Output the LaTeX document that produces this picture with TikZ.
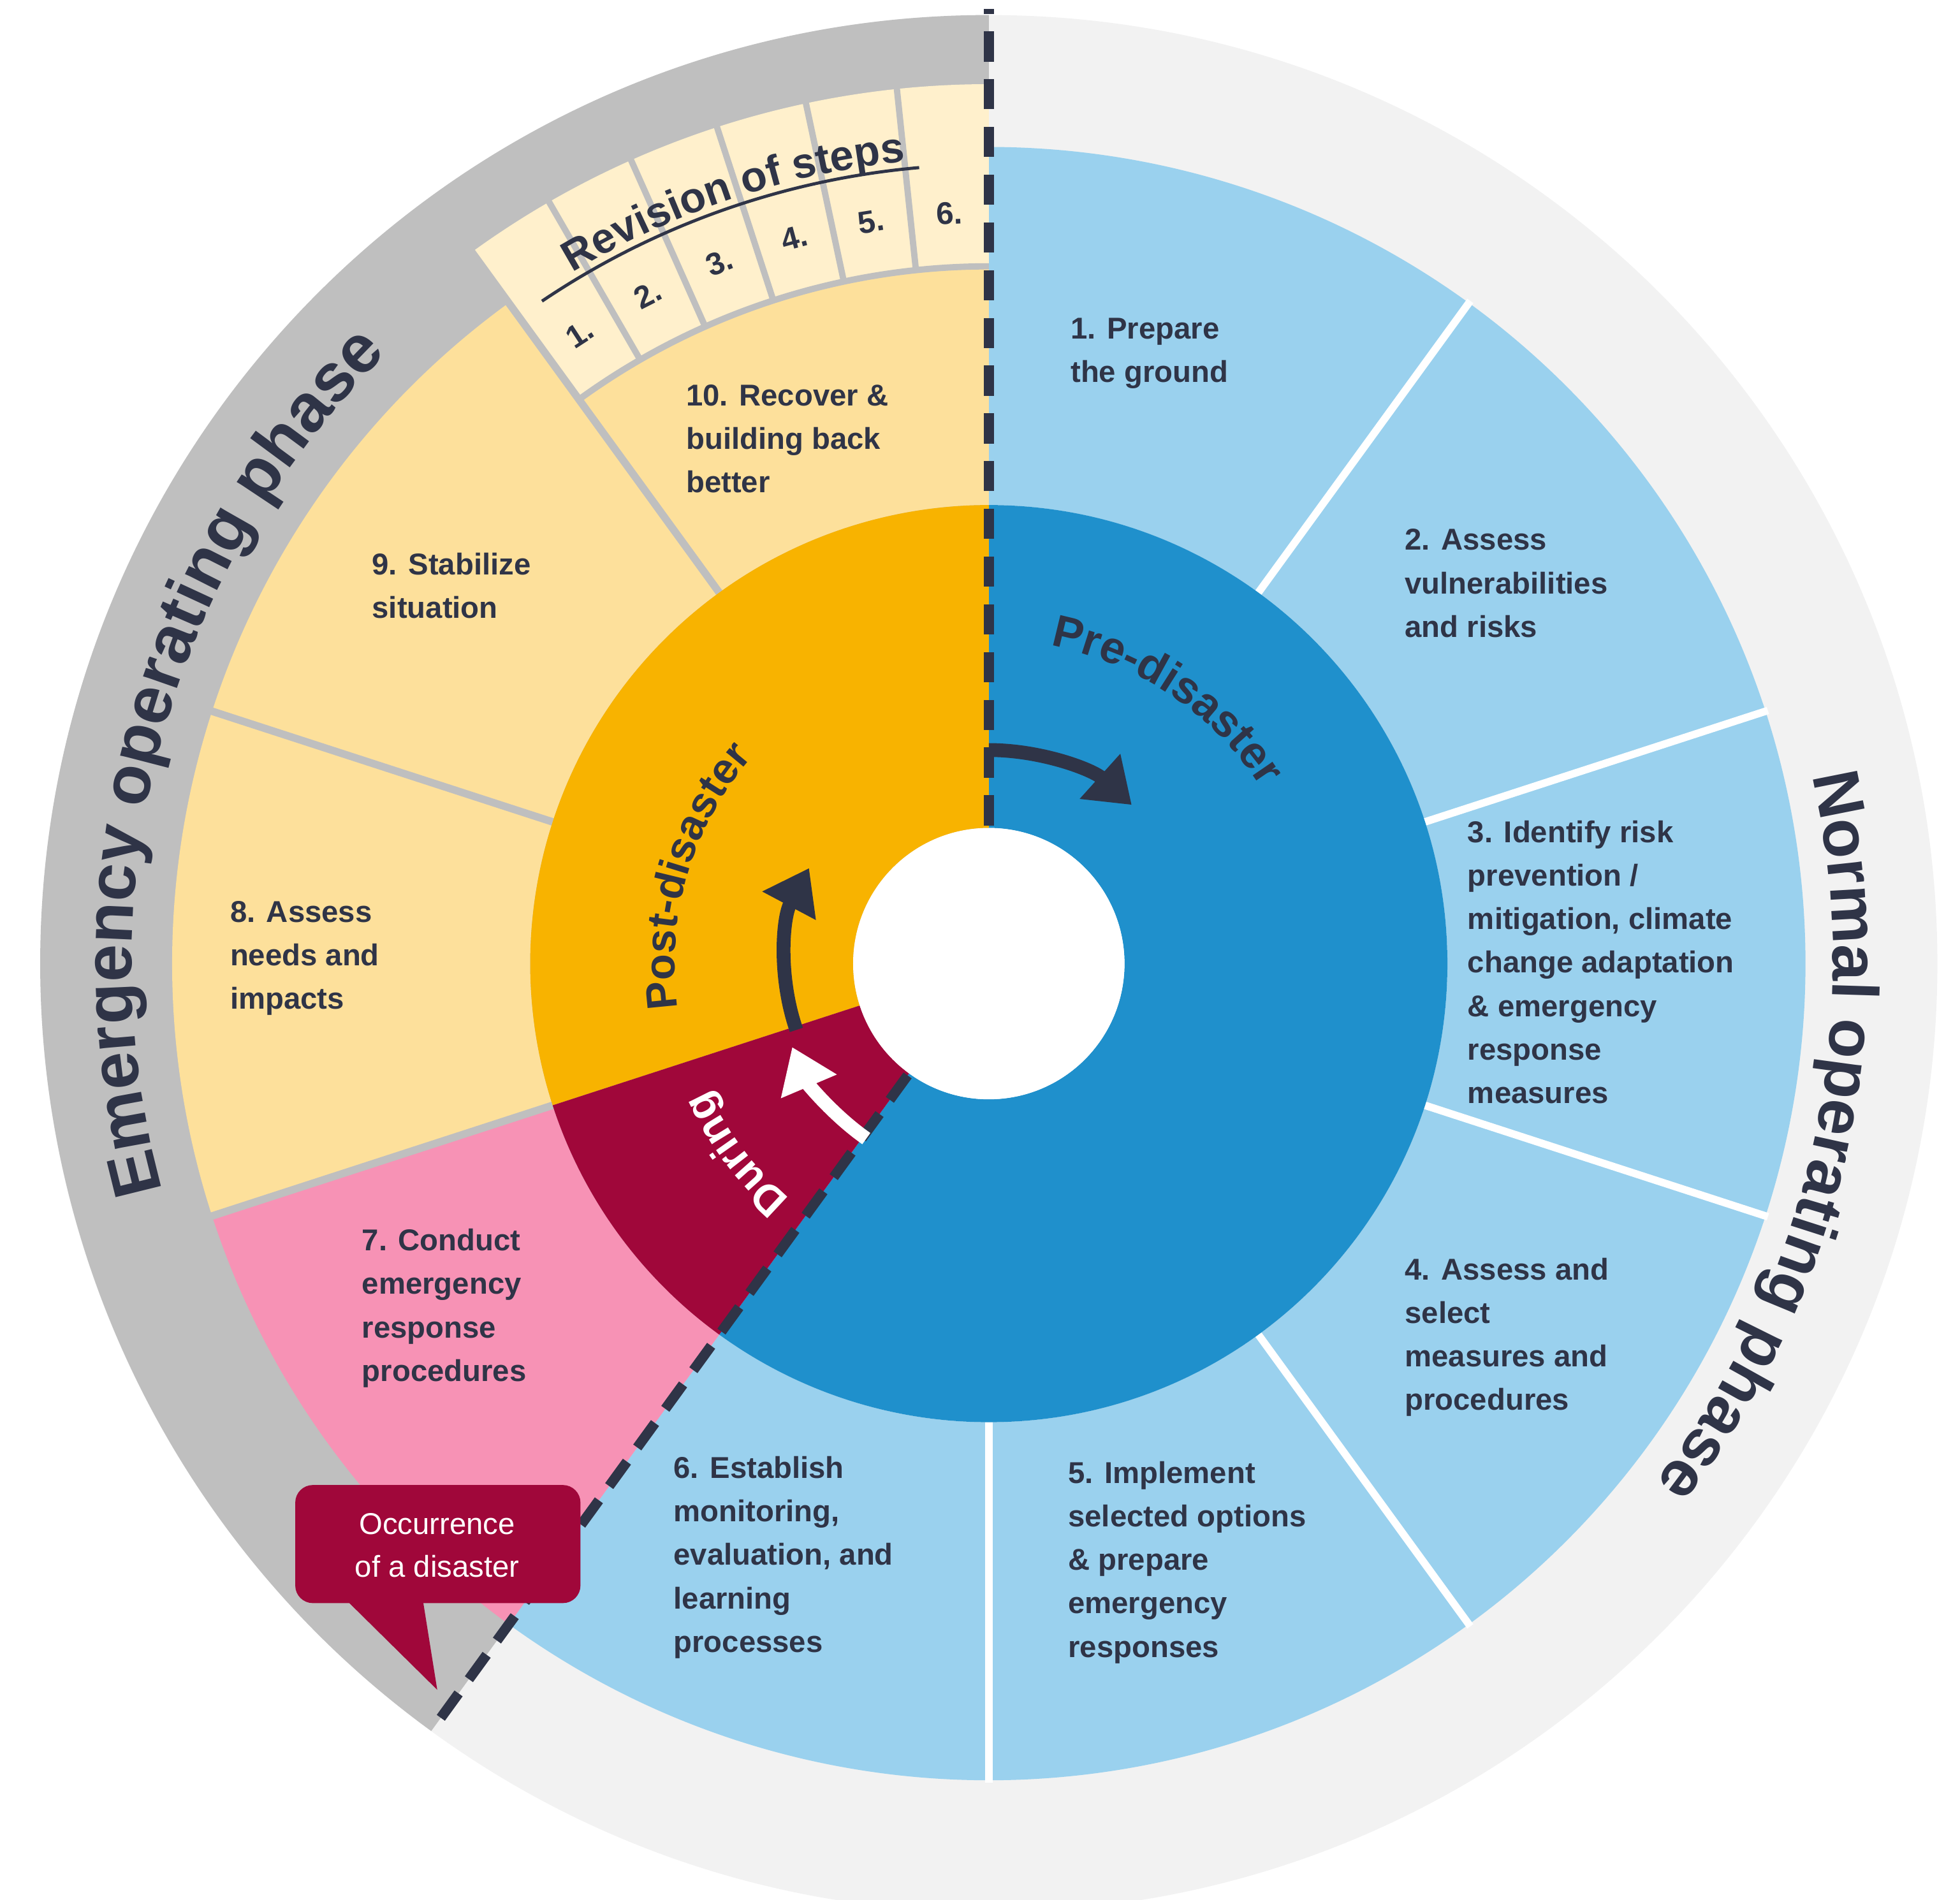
\documentclass[tikz,border=0pt]{standalone}
\usepackage{fontspec}
\setmainfont{Liberation Sans}
\usetikzlibrary{arrows.meta,decorations.text}
\definecolor{navy}{HTML}{2F3447}
\definecolor{lblue}{HTML}{9AD1EE}
\definecolor{dblue}{HTML}{1F90CC}
\definecolor{lyel}{HTML}{FDE09B}
\definecolor{oran}{HTML}{F8B300}
\definecolor{pinkc}{HTML}{F792B5}
\definecolor{maroon}{HTML}{A0073A}
\definecolor{creamc}{HTML}{FFF0CC}
\definecolor{grayc}{HTML}{BFBFBF}
\definecolor{lgray}{HTML}{F2F2F2}
\newcommand\ringsec[5]{\fill[#1] (#2:#4pt) arc[start angle=#2,end angle=#3,radius=#4pt] -- (#3:#5pt) arc[start angle=#3,end angle=#2,radius=#5pt] -- cycle;}
\begin{document}
\begin{tikzpicture}[x=1pt,y=1pt,
  seg/.style={anchor=north west,inner sep=0pt,align=left,text=navy,font=\fontsize{24}{34.6}\selectfont\bfseries},
  num/.style={inner sep=0pt,text=navy,font=\fontsize{25}{25}\selectfont\bfseries},
  wsep/.style={white,line width=6pt},
  gsep/.style={grayc,line width=6pt},
  dashln/.style={navy,line width=8pt,dash pattern=on 24pt off 14pt}]
\useasboundingbox (0,0) rectangle (1560,1512);
\begin{scope}[shift={(787,745)}]
% outer ring
\fill[lgray] (0,0) circle (755pt);
\fill[grayc] (0,0) -- (90:755pt) arc[start angle=90,end angle=234,radius=755pt] -- cycle;
% segments
\foreach \a in {90,54,18,-18,-54,-90} {\ringsec{lblue}{\a}{\a-36}{365}{650}}
\ringsec{pinkc}{198}{234}{365}{650}
\ringsec{lyel}{162}{198}{365}{650}
\ringsec{lyel}{126}{162}{365}{650}
\ringsec{lyel}{90}{126}{365}{555}
% revision cells
\foreach \a in {90,96,...,120} {\ringsec{creamc}{\a}{\a+6}{555}{700}}
\foreach \a in {96,102,...,120} {\draw[gsep,line width=5pt] (\a:555pt) -- (\a:702pt);}
\draw[gsep,line width=5pt] (90:555pt) arc[start angle=90,end angle=126,radius=555pt];
% separators
\foreach \a in {54,18,-18,-54,-90} {\draw[wsep] (\a:360pt) -- (\a:652pt);}
\draw[gsep] (198:360pt) -- (198:652pt);
\draw[gsep] (162:360pt) -- (162:652pt);
\draw[gsep] (126:360pt) -- (126:704pt);
% inner disc
\ringsec{dblue}{-126}{90}{108}{365}
\ringsec{oran}{90}{198}{108}{365}
\ringsec{maroon}{198}{234}{108}{365}
\fill[white] (0,0) circle (108pt);
% dashed lines
\draw[dashln] (90:110pt) -- (90:760pt);
\draw[dashln] (234:110pt) -- (234:745pt);
% arrows
\draw[navy,line width=11pt,-{Triangle[length=34pt,width=46pt]}] (90:170pt) arc[start angle=90,end angle=48,radius=170pt];
\draw[navy,line width=11pt,-{Triangle[length=34pt,width=46pt]}] (199:162pt) arc[start angle=199,end angle=152,radius=162pt];
\draw[white,line width=11pt,-{Triangle[length=34pt,width=46pt]}] (235:170pt) arc[start angle=235,end angle=203,radius=170pt];
% curved texts
\path[decorate,decoration={text along path,text align=center,text={|\fontsize{54}{54}\selectfont\bfseries\color{navy}|Emergency operating phase}}] (198:682pt) arc[start angle=198,end angle=132,radius=682pt];
\path[decorate,decoration={text along path,text align=center,text={|\fontsize{52}{52}\selectfont\bfseries\color{navy}|Normal operating phase}}] (17:672pt) arc[start angle=17,end angle=-42,radius=672pt];
\path[decorate,decoration={text along path,text align=center,text={|\fontsize{36}{36}\selectfont\bfseries\color{navy}|Pre-disaster}}] (86:258pt) arc[start angle=86,end angle=26,radius=258pt];
\path[decorate,decoration={text along path,text align=center,text={|\fontsize{34}{34}\selectfont\bfseries\color{navy}|Post-disaster}}] (195:250pt) arc[start angle=195,end angle=132,radius=250pt];
\path[decorate,decoration={text along path,text align=center,text={|\fontsize{34}{34}\selectfont\bfseries\color{white}|During}}] (236:245pt) arc[start angle=236,end angle=198,radius=245pt];
\path[decorate,decoration={text along path,text align=center,text={|\fontsize{34}{34}\selectfont\bfseries\color{navy}|Revision of steps}}] (126:642pt) arc[start angle=126,end angle=91,radius=642pt];
\draw[navy,line width=2.5pt] (124:636pt) arc[start angle=124,end angle=95,radius=636pt];
\foreach \n [count=\i] in {1,...,6} {\node[num,rotate={123-6*(\i-1)-90}] (r\i) at ({123-6*(\i-1)}:598pt) {\n.};}
\end{scope}
% segment texts
\node[seg] (s1) at (852,1512-253) {1. Prepare\\the ground};
\node[seg] (s2) at (1118,1512-421) {2. Assess\\vulnerabilities\\and risks};
\node[seg] (s3) at (1168,1512-653) {3. Identify risk\\prevention /\\mitigation, climate\\change adaptation\\\& emergency\\response\\measures};
\node[seg] (s4) at (1118,1512-1001) {4. Assess and\\select\\measures and\\procedures};
\node[seg] (s5) at (850,1512-1163) {5. Implement\\selected options\\\& prepare\\emergency\\responses};
\node[seg] (s6) at (536,1512-1159) {6. Establish\\monitoring,\\evaluation, and\\learning\\processes};
\node[seg] (s7) at (288,1512-978) {7. Conduct\\emergency\\response\\procedures};
\node[seg] (s8) at (183,1512-717) {8. Assess\\needs and\\impacts};
\node[seg] (s9) at (296,1512-440) {9. Stabilize\\situation};
\node[seg] (s10) at (546,1512-306) {10. Recover \&\\building back\\better};
% callout
\fill[maroon,rounded corners=14pt] (235,1512-1182) rectangle (462,1512-1276);
\fill[maroon] (272,1512-1270) -- (348,1512-1345) -- (336,1512-1270) -- cycle;
\node[inner sep=0pt,align=center,text=white,font=\fontsize{24}{34}\selectfont] (call) at (348,1512-1230) {Occurrence\\of a disaster};
\end{tikzpicture}
\end{document}
